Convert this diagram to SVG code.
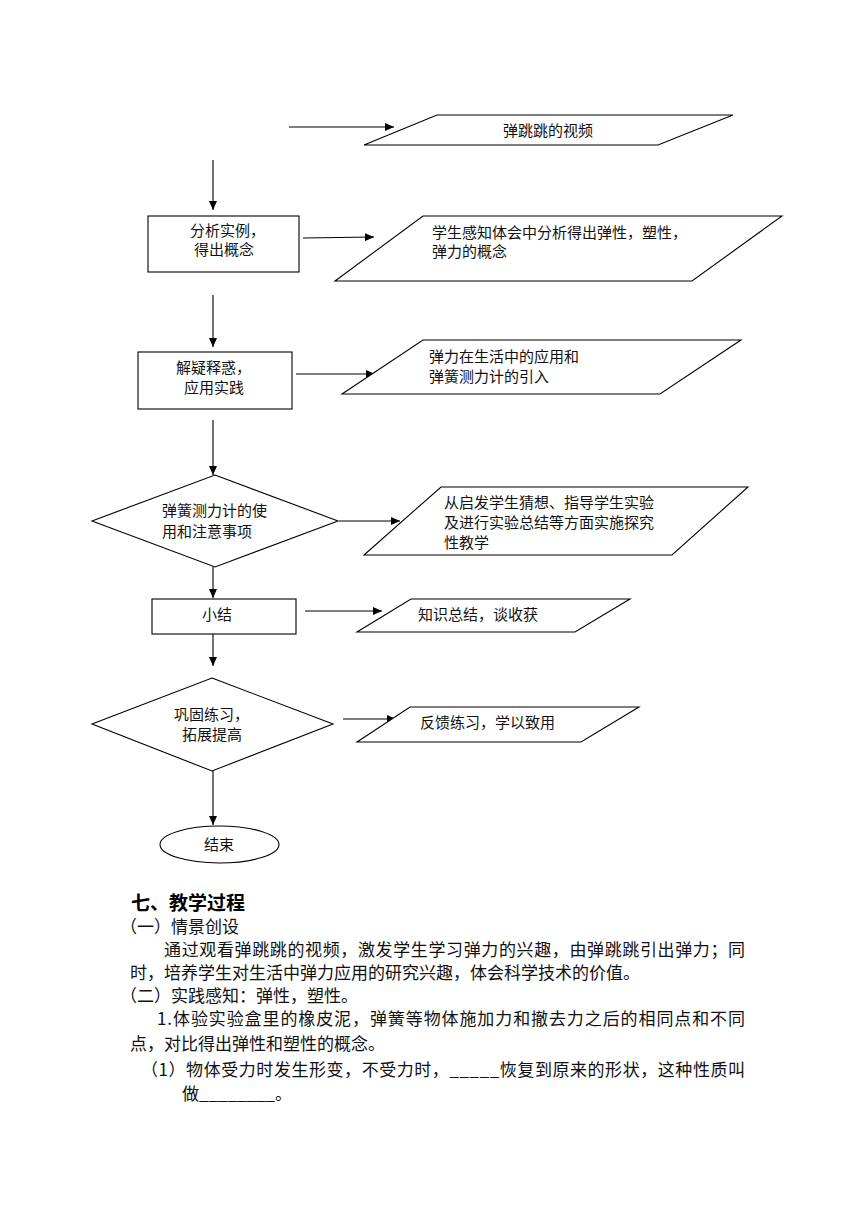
<svg xmlns="http://www.w3.org/2000/svg" width="860" height="1216" viewBox="0 0 860 1216">
<style>
.s{fill:#fff;stroke:#000;stroke-width:1.1}
.t{font-family:"Noto Sans CJK SC","Noto Sans CJK JP",sans-serif;font-size:15px;fill:#111}
.m{text-anchor:middle}
.c{stroke:#000;stroke-width:1.1;fill:none;marker-end:url(#ah)}
.p{font-family:"Noto Sans CJK SC","Noto Sans CJK JP",sans-serif;font-size:17px;fill:#111}
.h{font-family:"Noto Sans CJK SC","Noto Sans CJK JP",sans-serif;font-size:19px;font-weight:bold;fill:#000}
</style>
<defs>
<marker id="ah" markerUnits="userSpaceOnUse" markerWidth="10" markerHeight="8" refX="9" refY="4" orient="auto">
<path d="M0,0 L9,4 L0,8 z" fill="#000"/>
</marker>
</defs>
<rect width="860" height="1216" fill="#fff"/>
<g id="connectors">
<line class="c" x1="289" y1="127" x2="394" y2="127"/>
<line class="c" x1="213" y1="160" x2="213" y2="210"/>
<line class="c" x1="303" y1="238" x2="374" y2="237"/>
<line class="c" x1="213" y1="295" x2="213" y2="347"/>
<line class="c" x1="296" y1="374" x2="375" y2="374"/>
<line class="c" x1="213" y1="420" x2="213" y2="475"/>
<line class="c" x1="339" y1="521" x2="400" y2="521"/>
<line class="c" x1="213" y1="567" x2="213" y2="598"/>
<line class="c" x1="305" y1="611" x2="382" y2="611"/>
<line class="c" x1="213" y1="634" x2="213" y2="666"/>
<line class="c" x1="343" y1="719" x2="396" y2="719"/>
<line class="c" x1="213" y1="771" x2="213" y2="825"/>
</g>
<g id="n-video">
<polygon class="s" points="437,115 733,115 658,145 364,145"/>
<text class="t m" x="548" y="135.5">弹跳跳的视频</text>
</g>
<g id="n-analyze">
<rect class="s" x="148" y="216" width="151" height="56"/>
<text class="t"><tspan x="190" y="236">分析实例，</tspan><tspan x="194" y="255">得出概念</tspan></text>
</g>
<g id="n-concept">
<polygon class="s" points="423,216 782,216 692,281 335,281"/>
<text class="t"><tspan x="432" y="237.5">学生感知体会中分析得出弹性，塑性，</tspan><tspan x="432" y="256.5">弹力的概念</tspan></text>
</g>
<g id="n-apply">
<rect class="s" x="138" y="352" width="154" height="57"/>
<text class="t"><tspan x="176" y="373">解疑释惑，</tspan><tspan x="184" y="393">应用实践</tspan></text>
</g>
<g id="n-life">
<polygon class="s" points="423,340 741,340 660,394 342,394"/>
<text class="t"><tspan x="429" y="362">弹力在生活中的应用和</tspan><tspan x="429" y="382">弹簧测力计的引入</tspan></text>
</g>
<g id="n-meter">
<polygon class="s" points="215,475 338,521 215,567 92,521"/>
<text class="t"><tspan x="162" y="516">弹簧测力计的使</tspan><tspan x="162" y="537">用和注意事项</tspan></text>
</g>
<g id="n-inquiry">
<polygon class="s" points="441,487 748,487 672,555 364,555"/>
<text class="t"><tspan x="444" y="508">从启发学生猜想、指导学生实验</tspan><tspan x="444" y="528">及进行实验总结等方面实施探究</tspan><tspan x="444" y="548">性教学</tspan></text>
</g>
<g id="n-summary">
<rect class="s" x="152" y="599" width="144" height="35"/>
<text class="t m" x="217" y="620">小结</text>
</g>
<g id="n-gain">
<polygon class="s" points="411,599 630,599 575,632 357,632"/>
<text class="t" x="418" y="620">知识总结，谈收获</text>
</g>
<g id="n-practice">
<polygon class="s" points="212,678 333,724 212,771 92,724"/>
<text class="t"><tspan x="174" y="720">巩固练习，</tspan><tspan x="182" y="740">拓展提高</tspan></text>
</g>
<g id="n-feedback">
<polygon class="s" points="410,707 639,707 581,742 357,742"/>
<text class="t" x="420" y="728">反馈练习，学以致用</text>
</g>
<g id="n-end">
<ellipse class="s" cx="219.5" cy="844.5" rx="59.5" ry="18.5"/>
<text class="t m" x="219" y="850">结束</text>
</g>
<g id="body-text">
<text class="h" x="131" y="910">七、教学过程</text>
<text class="p" x="120" y="933">（一）情景创设</text>
<text class="p"><tspan x="164" y="956" textLength="581" lengthAdjust="spacing">通过观看弹跳跳的视频，激发学生学习弹力的兴趣，由弹跳跳引出弹力；同</tspan><tspan x="130" y="979">时，培养学生对生活中弹力应用的研究兴趣，体会科学技术的价值。</tspan></text>
<text class="p" x="120" y="1002">（二）实践感知：弹性，塑性。</text>
<text class="p"><tspan x="157" y="1025" textLength="588" lengthAdjust="spacing">1.体验实验盒里的橡皮泥，弹簧等物体施加力和撤去力之后的相同点和不同</tspan><tspan x="130" y="1050">点，对比得出弹性和塑性的概念。</tspan></text>
<text class="p"><tspan x="141" y="1076" textLength="604" lengthAdjust="spacing">（1）物体受力时发生形变，不受力时，_____恢复到原来的形状，这种性质叫</tspan><tspan x="182" y="1100">做________。</tspan></text>
</g>
</svg>
